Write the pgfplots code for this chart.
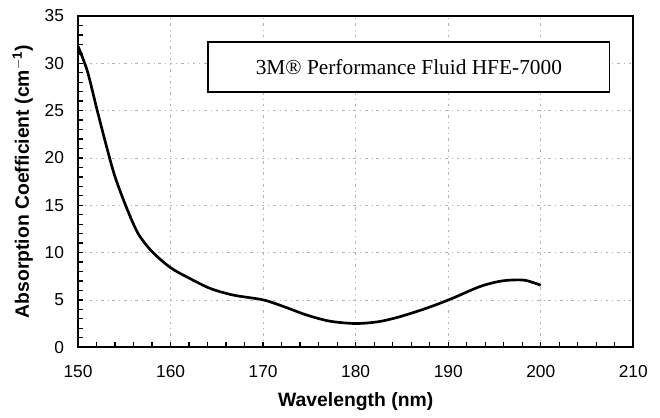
\documentclass[border=0pt]{standalone}
\usepackage{pgfplots}
\pgfplotsset{compat=1.18}
\usepackage{fontspec}
\setmainfont{Liberation Sans}
\newfontfamily\serif{Liberation Serif}

\begin{document}
\begin{tikzpicture}
  % frame of the whole picture: 660x417 px at 0.75pt per px
  \useasboundingbox (-58.5pt,-52.5pt) rectangle (436.25pt,260.25pt);
  \begin{axis}[
    at={(0,0)}, anchor=south west,
    scale only axis,
    width=416.25pt, height=248.25pt,
    xmin=150, xmax=210, ymin=0, ymax=35,
    xtick={150,160,...,210}, ytick={0,5,...,35},
    minor x tick num=4, minor y tick num=4,
    tick pos=left, tick align=inside,
    major tick length=4pt, minor tick length=4pt,
    every tick/.style={black, line width=1pt},
    axis line style={line width=1.4pt},
    grid=major,
    grid style={gray!60, line width=0.5pt, dash pattern=on 2pt off 3pt on 0.6pt off 3pt},
    tick label style={font=\fontsize{13}{15}\selectfont},
    /pgf/number format/assume math mode=true,
    xticklabel style={yshift=-10pt},
    yticklabel style={xshift=-7pt},
    xlabel={\textbf{Wavelength (nm)}},
    ylabel={\textbf{Absorption Coefficient (cm$^{\mathbf{-1}}$)}},
    label style={font=\fontsize{14.5}{16}\selectfont},
    xlabel style={yshift=-4pt},
    ylabel style={yshift=2pt},
  ]
  \addplot[black, line width=2pt, smooth, tension=0.5] coordinates {
    (150,31.8) (151,29.2) (152,25.3) (153,21.5) (154,18.0) (155.3,14.6)
    (156.5,12.0) (158,10.1) (160,8.4) (162,7.3) (164.3,6.2) (166.8,5.5)
    (170,5.0) (172.2,4.3) (174.7,3.4) (177.2,2.75) (180,2.5) (182.5,2.7)
    (184.7,3.2) (187.6,4.1) (190.3,5.1) (193.4,6.4) (195.5,6.95) (197,7.1)
    (198.4,7.05) (200,6.55)
  };
  \end{axis}
  % legend box
  \draw[line width=1pt, fill=white] (97.5pt,191.25pt) rectangle (398.25pt,228.75pt);
  \node at (248pt,210pt) {\serif\fontsize{16}{18}\selectfont 3M® Performance Fluid HFE-7000};
\end{tikzpicture}
\end{document}
